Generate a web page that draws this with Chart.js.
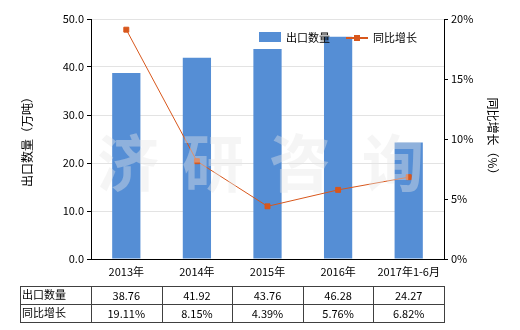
<!DOCTYPE html>
<html>
<head>
<meta charset="utf-8">
<script src="https://cdn.jsdelivr.net/npm/chart.js@4.4.1/dist/chart.umd.min.js"></script>
<style>
  html, body { margin: 0; padding: 0; background: #fff; }
  #wrap { width: 520px; height: 330px; }
</style>
</head>
<body>
<div id="wrap"><canvas id="chart" width="520" height="330"></canvas></div>
<script>
const years = ['2013年', '2014年', '2015年', '2016年', '2017年1-6月'];
const exportQty = [38.76, 41.92, 43.76, 46.28, 24.27];
const growth = [19.11, 8.15, 4.39, 5.76, 6.82];
const qtyLabels = ['38.76', '41.92', '43.76', '46.28', '24.27'];
const growthLabels = ['19.11%', '8.15%', '4.39%', '5.76%', '6.82%'];

const FONT = '"Noto Sans CJK SC", "Noto Sans", sans-serif';
const BLUE = '#558ed5';
const ORANGE = '#d8571c';

// faint watermark behind everything
const watermark = {
    id: 'watermark',
    afterDatasetsDraw(chart) {
        const c = chart.ctx;
        c.save();
        c.font = 'bold 62px ' + FONT;
        c.fillStyle = 'rgba(230,230,230,0.4)';
        c.textAlign = 'center';
        c.textBaseline = 'middle';
        const t = ['济', '研', '咨', '询'];
        const xs = [128, 213, 300, 393];
        t.forEach((ch, i) => c.fillText(ch, xs[i], 163));
        c.restore();
    }
};

// legend inside plot + data table under the x axis
const extras = {
    id: 'extras',
    afterDraw(chart) {
        const c = chart.ctx;
        const x = chart.scales.x;
        c.save();
        c.font = '11px ' + FONT;
        c.textBaseline = 'middle';
        c.fillStyle = '#000';

        // legend
        c.fillStyle = BLUE;
        c.fillRect(259, 32, 22, 10);
        c.fillStyle = '#000';
        c.fillText('出口数量', 286, 38);
        c.strokeStyle = ORANGE;
        c.lineWidth = 2;
        c.beginPath(); c.moveTo(346, 38); c.lineTo(368, 38); c.stroke();
        c.fillStyle = ORANGE;
        c.fillRect(354, 35, 6, 6);
        c.fillStyle = '#000';
        c.fillText('同比增长', 373, 38);

        // table
        const left = 20, right = chart.chartArea.right;
        const top = 286, mid = 304, bot = 322;
        const step = (x.getPixelForValue(1) - x.getPixelForValue(0));
        c.strokeStyle = '#404040';
        c.lineWidth = 1;
        c.beginPath();
        [top, mid, bot].forEach(y => { c.moveTo(left, y + 0.5); c.lineTo(right, y + 0.5); });
        c.moveTo(left + 0.5, top); c.lineTo(left + 0.5, bot + 1);
        for (let i = 0; i <= years.length; i++) {
            const px = Math.round(x.getPixelForValue(i) - step / 2) + 0.5;
            c.moveTo(px, top); c.lineTo(px, bot + 1);
        }
        c.stroke();
        c.fillStyle = '#000';
        c.textAlign = 'left';
        c.fillText('出口数量', 22, 295);
        c.fillText('同比增长', 22, 313);
        c.textAlign = 'center';
        years.forEach((_, i) => {
            const px = x.getPixelForValue(i);
            c.fillText(qtyLabels[i], px, 296);
            c.fillText(growthLabels[i], px, 314);
        });
        c.restore();
    }
};

new Chart(document.getElementById('chart'), {
    data: {
        labels: years,
        datasets: [
            {
                type: 'line',
                label: '同比增长',
                data: growth,
                yAxisID: 'y1',
                borderColor: ORANGE,
                backgroundColor: ORANGE,
                borderWidth: 1,
                pointStyle: 'rect',
                pointRadius: 3.5,
                tension: 0,
                order: 0
            },
            {
                type: 'bar',
                label: '出口数量',
                data: exportQty,
                yAxisID: 'y',
                backgroundColor: BLUE,
                barPercentage: 0.8,
                categoryPercentage: 0.5,
                order: 1
            }
        ]
    },
    options: {
        responsive: false,
        animation: false,
        layout: { padding: { top: 19, left: 0, right: 0, bottom: 0 } },
        plugins: { legend: { display: false }, tooltip: { enabled: false } },
        scales: {
            x: {
                grid: { display: false, drawOnChartArea: false, tickLength: 4, color: '#000' },
                border: { color: '#000', width: 1 },
                ticks: { color: '#000', font: { family: FONT, size: 11 }, padding: 2, maxRotation: 0 },
                afterFit(s) { s.height = 71; }
            },
            y: {
                position: 'left',
                min: 0, max: 50,
                ticks: { stepSize: 10, color: '#000', font: { family: FONT, size: 11 }, padding: 3,
                         callback: v => v.toFixed(1) },
                grid: { color: '#e3e3e3', tickLength: 4, tickColor: '#000' },
                border: { color: '#000', width: 1 },
                title: { display: true, text: '出口数量（万吨）', color: '#000', font: { family: FONT, size: 12 }, padding: { top: 20, bottom: 0 } },
                afterFit(s) { s.width = 91; }
            },
            y1: {
                position: 'right',
                min: 0, max: 20,
                ticks: { stepSize: 5, color: '#000', font: { family: FONT, size: 11 }, padding: 3,
                         callback: v => v + '%' },
                grid: { drawOnChartArea: false, tickLength: 4, tickColor: '#000' },
                border: { color: '#000', width: 1 },
                title: { display: true, text: '同比增长（%）', color: '#000', font: { family: FONT, size: 12 }, padding: { top: 20, bottom: 0 } },
                afterFit(s) { s.width = 76; }
            }
        }
    },
    plugins: [watermark, extras]
});
</script>
</body>
</html>
